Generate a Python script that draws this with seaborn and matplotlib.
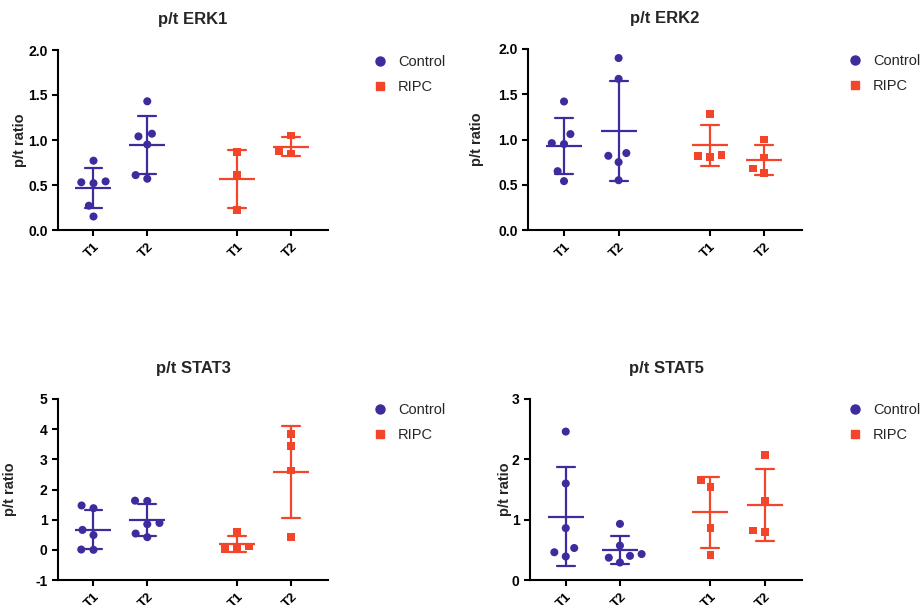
import numpy as np
import pandas as pd
import matplotlib
matplotlib.use("Agg")
import matplotlib.pyplot as plt
from matplotlib.lines import Line2D
import seaborn as sns

# ---------------- data ----------------
GROUPS = ["Control", "RIPC"]
TIMES = ["T1", "T2"]
TICK_LABELS = ["T1", "T2", "T1", "T2"]

ERK1_CONTROL_T1 = [0.77, 0.54, 0.52, 0.53, 0.27, 0.15]
ERK1_CONTROL_T2 = [1.43, 1.04, 1.07, 0.95, 0.57, 0.61]
ERK1_RIPC_T1 = [0.87, 0.61, 0.22]
ERK1_RIPC_T2 = [1.05, 0.85, 0.88]

ERK2_CONTROL_T1 = [1.42, 0.96, 0.95, 1.06, 0.65, 0.54]
ERK2_CONTROL_T2 = [1.90, 1.67, 0.82, 0.85, 0.75, 0.55]
ERK2_RIPC_T1 = [1.28, 0.82, 0.81, 0.83]
ERK2_RIPC_T2 = [1.00, 0.80, 0.63, 0.68]

STAT3_CONTROL_T1 = [1.38, 1.47, 0.66, 0.49, 0.0, 0.01]
STAT3_CONTROL_T2 = [1.63, 1.62, 0.89, 0.85, 0.42, 0.54]
STAT3_RIPC_T1 = [0.60, 0.11, 0.02, 0.03]
STAT3_RIPC_T2 = [3.85, 3.43, 2.63, 0.43]

STAT5_CONTROL_T1 = [2.46, 1.60, 0.86, 0.53, 0.46, 0.39]
STAT5_CONTROL_T2 = [0.93, 0.57, 0.40, 0.43, 0.37, 0.29]
STAT5_RIPC_T1 = [1.66, 1.54, 0.86, 0.42]
STAT5_RIPC_T2 = [2.07, 1.31, 0.80, 0.82]

PANELS = [
    ("p/t ERK1", [ERK1_CONTROL_T1, ERK1_CONTROL_T2, ERK1_RIPC_T1, ERK1_RIPC_T2],
     [0.0, 0.5, 1.0, 1.5, 2.0], "%.1f"),
    ("p/t ERK2", [ERK2_CONTROL_T1, ERK2_CONTROL_T2, ERK2_RIPC_T1, ERK2_RIPC_T2],
     [0.0, 0.5, 1.0, 1.5, 2.0], "%.1f"),
    ("p/t STAT3", [STAT3_CONTROL_T1, STAT3_CONTROL_T2, STAT3_RIPC_T1, STAT3_RIPC_T2],
     [-1, 0, 1, 2, 3, 4, 5], "%d"),
    ("p/t STAT5", [STAT5_CONTROL_T1, STAT5_CONTROL_T2, STAT5_RIPC_T1, STAT5_RIPC_T2],
     [0, 1, 2, 3], "%d"),
]

# ---------------- style ----------------
sns.set_style("ticks")
plt.rcParams["font.family"] = ["Liberation Sans", "DejaVu Sans"]
plt.rcParams["axes.linewidth"] = 1.5
plt.rcParams["xtick.major.width"] = 1.5
plt.rcParams["ytick.major.width"] = 1.5
plt.rcParams["xtick.major.size"] = 4
plt.rcParams["ytick.major.size"] = 4
plt.rcParams["xtick.color"] = "black"
plt.rcParams["ytick.color"] = "black"

COLORS = {"Control": "#3F2A9E", "RIPC": "#F2452A"}
MARKERS = {"Control": "o", "RIPC": "s"}
POSITIONS = [0.0, 1.0, 2.67, 3.67]

W, H = 922, 605
fig = plt.figure(figsize=(W / 100, H / 100), dpi=100)

# axes rectangles in pixels: (left, top, right, bottom)
RECTS = [(58, 50, 328, 230), (528, 49, 802, 230), (58, 399, 328, 580), (530, 399, 802, 580)]
LEGEND_ANCHORS = [(373, 55), (848, 54), (373, 403), (848, 403)]
YLABEL_X = [27, 484, 17, 512]

for (title, series, yticks, fmt), (l, t, r, b), (lx, ly), yx in zip(
        PANELS, RECTS, LEGEND_ANCHORS, YLABEL_X):
    ax = fig.add_axes([l / W, 1 - b / H, (r - l) / W, (b - t) / H])
    rows = []
    k = 0
    for g in GROUPS:
        for tm in TIMES:
            for v in series[k]:
                rows.append({"group": g, "time": tm, "pos": POSITIONS[k], "value": v})
            k += 1
    df = pd.DataFrame(rows)

    for g in GROUPS:
        sub = df[df["group"] == g]
        sns.swarmplot(data=sub, x="pos", y="value", native_scale=True, ax=ax,
                      color=COLORS[g], marker=MARKERS[g],
                      size=5.8 if g == "Control" else 5.6,
                      linewidth=2.6, edgecolor="none", zorder=3)
        sns.pointplot(data=sub, x="pos", y="value", native_scale=True, ax=ax,
                      color=COLORS[g], errorbar="sd", capsize=0.33,
                      markers="_", linestyles="none", markersize=26,
                      markeredgewidth=1.6, err_kws={"linewidth": 1.6}, zorder=2)

    ax.set_xlim(-0.66, 4.36)
    ax.set_ylim(yticks[0], yticks[-1])
    ax.set_yticks(yticks)
    ax.set_yticklabels([fmt % v for v in yticks], fontsize=10, fontweight="bold")
    ax.set_xticks(POSITIONS)
    ax.set_xticklabels(TICK_LABELS, rotation=45, ha="right", rotation_mode="anchor",
                       fontsize=9.5, fontweight="bold")
    ax.set_xlabel("")
    ax.set_ylabel("p/t ratio", fontsize=10.5, fontweight="bold")
    ax.yaxis.set_label_coords((yx - l) / (r - l), 0.5)
    ax.set_title(title, fontsize=12, fontweight="bold", pad=19)
    sns.despine(ax=ax)
    for s in ["left", "bottom"]:
        ax.spines[s].set_color("black")

    handles = [Line2D([], [], linestyle="none", marker=MARKERS[g], color=COLORS[g],
                      markersize=6.5 if g == "Control" else 6) for g in GROUPS]
    ax.legend(handles, GROUPS, loc="upper left", bbox_to_anchor=(lx / W, 1 - ly / H),
              bbox_transform=fig.transFigure, frameon=False, fontsize=10.5,
              handlelength=1.0, handletextpad=0.7, labelspacing=0.75, borderpad=0,
              borderaxespad=0)

fig.savefig("out.png", dpi=100)
